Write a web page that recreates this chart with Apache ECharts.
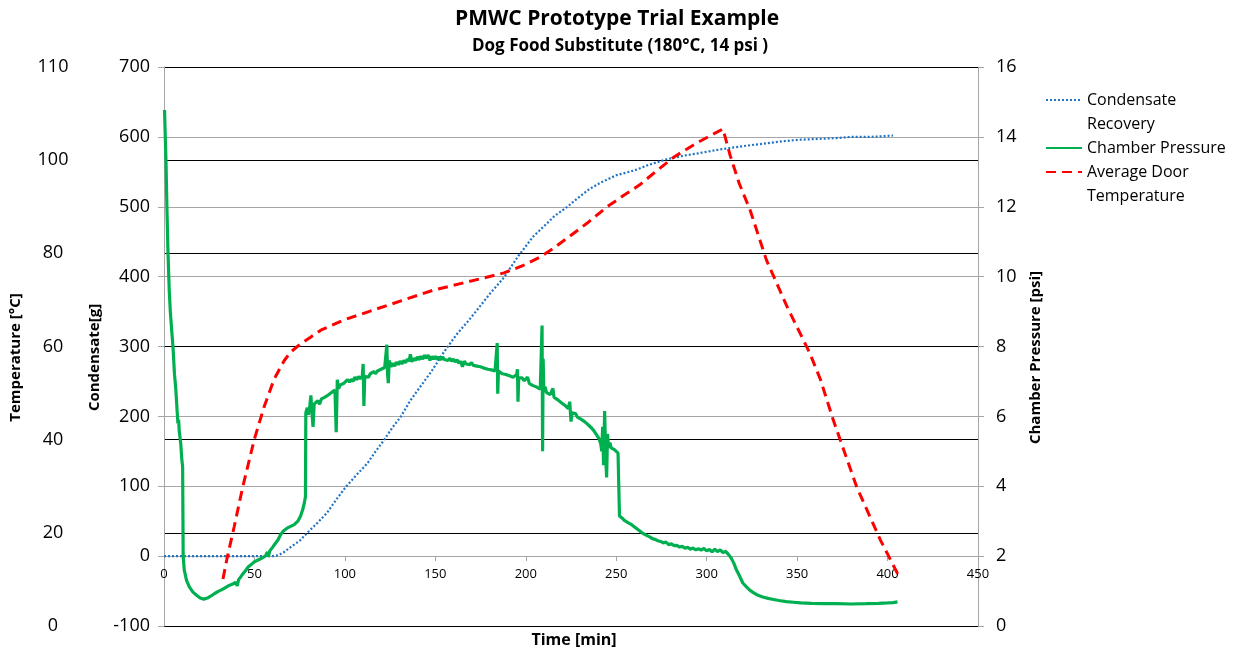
<!DOCTYPE html>
<html>
<head>
<meta charset="utf-8">
<script src="https://cdn.jsdelivr.net/npm/echarts@6/dist/echarts.min.js"></script>
<style>
html,body{margin:0;padding:0;background:#fff;}
#chart{width:1239px;height:653px;}
</style>
</head>
<body>
<div id="chart"></div>
<script>
// ---- Data ----
const timeTicks = [0, 50, 100, 150, 200, 250, 300, 350, 400, 450];

const condTime = [0, 10, 20, 30, 40, 50, 60, 63, 66, 70, 75, 79.5, 85, 90.4, 95, 100.5, 106, 112.5, 117, 121.6, 126, 131, 136, 141, 148, 155, 162, 168, 173, 180, 188, 196, 204, 210, 216, 223, 230, 235, 241, 250, 260, 268, 278, 287, 296.5, 305, 315, 324, 333.5, 343, 352, 361, 370, 380, 390, 398, 403];
const condensate = [0, 0, 0, 0, 0, 0, 0, 1, 5, 13, 22, 34, 48, 63, 80, 99, 115, 133, 150, 166, 183, 200, 222, 240, 265, 293, 318, 336, 352, 375, 399, 430, 457, 472, 487, 500, 515, 525, 534, 545, 552, 560, 568, 573, 577, 581, 585, 588, 591, 594, 596, 597, 598, 600, 600, 601, 602];

const pressTime = [0.3, 0.6, 1.1, 1.6, 2.2, 2.9, 3.5, 4.2, 5.0, 5.8, 6.5, 7.2, 7.7, 8.1, 8.4, 8.8, 9.3, 9.8, 10.3, 10.6, 11.2, 12.5, 14, 16, 18, 20, 22, 24, 26, 28, 30, 32, 34, 36, 38, 39.5, 40.5, 41.2, 43, 45, 46.5, 48, 50, 52, 54, 56, 57.2, 57.7, 58.5, 60, 61.5, 63, 64.5, 66, 68, 70, 72, 74, 75.5, 76.6, 77.5, 78.2,
  78.4, 79.2, 79.8, 80.6, 81.2, 81.8, 82.4, 83, 84, 85, 86, 87, 88, 89, 90, 91, 92, 93, 94.5, 95.2, 95.8, 96.5, 97.5, 98.5, 99.5, 100.5, 101.5, 102.5, 103.5, 104.5, 105.5, 106.5, 107.5, 108.5, 109.6, 110.1, 110.5, 111, 112, 113, 114, 115, 116, 117, 118, 119, 120, 121, 122, 123.2, 123.6, 124, 124.5, 125.5, 126.5, 127.5, 128.5, 129.5, 130.5, 131.5, 132.5, 133.5, 134.5, 135.5, 136.2, 137, 138, 139, 140, 141, 142, 143, 144, 145, 146, 147, 148, 149, 150, 151, 152, 153, 154, 155, 156, 157, 158, 159, 160, 161, 162, 163, 164, 165, 166, 167, 168, 169, 170, 171, 172, 173, 174, 175, 176, 177, 178, 179, 180, 181, 182, 183, 183.8, 184.2, 184.5, 184.9, 186, 187, 188, 189, 190, 191, 192, 193, 194, 195, 195.4, 195.7, 196.1, 197, 198, 199, 200, 201, 202, 203, 204, 205, 206, 207, 208, 208.7, 209, 209.3, 209.6, 210, 210.6, 211.5, 212.5, 213.5, 214.5, 215, 215.6, 216.5, 217.5, 218.5, 219.5, 220.5, 221.5, 222.5, 223.5, 224.3, 225, 225.6, 226.5, 227.5, 228.5, 229.5, 230.5, 231.5, 232.5, 233.5, 234.5, 235.5, 236.5, 237.5, 238.5, 239.5, 240.5, 241.5, 242, 242.5, 243, 243.6, 244.2, 244.7, 245.2, 245.8, 246.5, 247.2, 248, 249, 250, 251, 251.5,
  251.8, 252.5, 253.5, 254.5, 255.5, 256.5, 257.5, 258.5, 259.5, 260.5, 261.5, 262.5, 263.5, 264.5, 265.5, 266.5, 267.5, 268.5, 270, 271.5, 273, 274.5, 276, 277.5, 279, 280.5, 282, 283.5, 285, 286.5, 288, 289.5, 291, 292.5, 294, 295.5, 297, 298.5, 300, 301.5, 303, 304.5, 306, 307.5, 309, 310.5, 312, 313.5, 315, 316.5, 318, 320, 322, 324, 326, 328, 331, 334, 337, 340, 344, 348, 352, 358, 365, 372, 380, 388, 395, 400, 403, 405.5];
const pressure = [14.77, 14.2, 13.3, 12.0, 10.7, 9.6, 9.0, 8.5, 7.97, 7.2, 6.8, 6.2, 5.8, 5.9, 5.6, 5.65, 5.2, 4.8, 4.55, 2.0, 1.6, 1.3, 1.12, 0.97, 0.88, 0.8, 0.77, 0.8, 0.86, 0.93, 0.99, 1.04, 1.1, 1.16, 1.2, 1.25, 1.15, 1.32, 1.45, 1.58, 1.69, 1.75, 1.84, 1.89, 1.94, 2.0, 2.12, 1.98, 2.15, 2.25, 2.36, 2.46, 2.62, 2.72, 2.8, 2.85, 2.9, 3.0, 3.15, 3.32, 3.5, 3.7,
  6.1, 6.25, 6.05, 6.3, 6.6, 6.1, 5.7, 6.35, 6.3, 6.45, 6.35, 6.5, 6.45, 6.55, 6.5, 6.62, 6.58, 6.7, 6.75, 5.55, 7.05, 6.8, 6.9, 6.85, 6.95, 6.9, 7.05, 6.98, 7.06, 7.0, 7.12, 7.05, 7.14, 7.08, 7.15, 7.5, 6.3, 7.15, 7.18, 7.12, 7.22, 7.2, 7.28, 7.22, 7.3, 7.27, 7.35, 7.3, 7.4, 8.05, 7.2, 6.95, 7.6, 7.42, 7.52, 7.44, 7.55, 7.48, 7.58, 7.5, 7.6, 7.53, 7.64, 7.58, 7.78, 7.56, 7.66, 7.6, 7.7, 7.62, 7.72, 7.64, 7.75, 7.66, 7.76, 7.6, 7.72, 7.64, 7.72, 7.63, 7.7, 7.62, 7.7, 7.63, 7.68, 7.6, 7.66, 7.58, 7.64, 7.56, 7.62, 7.52, 7.58, 7.42, 7.58, 7.5, 7.55, 7.48, 7.54, 7.46, 7.5, 7.44, 7.48, 7.42, 7.46, 7.38, 7.42, 7.35, 7.4, 7.33, 7.37, 7.3, 7.35, 8.1, 6.65, 7.3, 7.28, 7.22, 7.27, 7.2, 7.24, 7.16, 7.2, 7.12, 7.16, 7.2, 7.35, 6.42, 7.1, 7.06, 7.1, 7.02, 7.06, 7.12, 6.94, 6.98, 6.88, 6.92, 6.84, 6.88, 6.78, 6.8, 8.6, 5.0, 7.65, 6.7, 6.85, 6.68, 6.72, 6.62, 6.66, 6.8, 6.55, 6.58, 6.48, 6.5, 6.4, 6.42, 6.32, 6.35, 6.22, 6.42, 5.85, 6.1, 6.05, 6.08, 5.98, 6.0, 5.92, 5.95, 5.85, 5.86, 5.76, 5.74, 5.66, 5.6, 5.52, 5.5, 5.36, 5.2, 5.0, 5.7, 4.6, 6.15, 4.8, 4.25, 5.5, 5.1, 5.25, 5.1, 5.15, 5.05, 5.0, 4.95, 4.9,
  3.15, 3.1, 3.08, 3.02, 3.04, 2.96, 2.98, 2.9, 2.88, 2.82, 2.8, 2.74, 2.72, 2.66, 2.68, 2.6, 2.58, 2.55, 2.5, 2.48, 2.44, 2.42, 2.38, 2.4, 2.33, 2.35, 2.3, 2.31, 2.26, 2.28, 2.23, 2.25, 2.2, 2.23, 2.18, 2.21, 2.17, 2.22, 2.15, 2.19, 2.12, 2.2, 2.13, 2.18, 2.1, 2.14, 2.05, 1.95, 1.8, 1.6, 1.45, 1.23, 1.12, 1.02, 0.95, 0.89, 0.83, 0.79, 0.76, 0.73, 0.7, 0.68, 0.66, 0.65, 0.64, 0.64, 0.63, 0.64, 0.65, 0.66, 0.67, 0.69];

const tempTime = [32.6, 35, 38.8, 43.5, 49.8, 55.3, 60.9, 66.5, 70, 75.6, 81, 86.7, 99.4, 114, 131, 149, 165, 176.7, 188, 198, 208, 215, 223, 234, 245, 254, 263, 272, 282, 295, 309, 313, 318, 324, 333, 344.5, 357, 363, 370, 383, 396, 406.5];
const temperature = [10.1, 14.8, 21.3, 29.8, 39.9, 47, 53, 57, 58.8, 60.6, 62, 63.5, 65.7, 67.6, 69.8, 72.1, 73.6, 74.7, 75.8, 77.3, 79.2, 81, 83.3, 86.5, 90, 92.4, 94.7, 97.6, 100.7, 103.8, 106.7, 101, 95, 89.3, 78.6, 68.5, 58.6, 52.8, 44.2, 29.8, 18.5, 10.5];

const tempTickLabels = {0: '0', 20: '20', 40: '40', 60: '60', 80: '80', 100: '100', 120: '110'};

const seriesNames = ['Condensate Recovery', 'Chamber Pressure', 'Average Door Temperature'];

// ---- Build ----
function zip(a, b) { return a.map((v, i) => [v, b[i]]); }
const FONT = 'Open Sans';
const GREY = '#a6a6a6';

const chart = echarts.init(document.getElementById('chart'), null, {renderer: 'canvas'});
// a leading blank line keeps the legend line beside the first line of a two-line name
const legendFormatter = n => n === 'Condensate Recovery' ? '\nCondensate\nRecovery'
  : n === 'Average Door Temperature' ? '\nAverage Door\nTemperature' : n;
const legendBase = {
  orient: 'vertical', left: 1045, padding: 0, itemWidth: 36, itemHeight: 12,
  formatter: legendFormatter,
  itemStyle: {opacity: 0},
  textStyle: {fontSize: 16, lineHeight: 24, color: '#000', fontFamily: FONT}
};
const axisNameStyle = {fontSize: 15, fontWeight: 'bold', color: '#000', padding: [0, 22, 0, 0]};

chart.setOption({
  animation: false,
  textStyle: {fontFamily: FONT},
  title: [
    {text: 'PMWC Prototype Trial Example', left: 450, top: 4,
      textStyle: {fontSize: 21, fontWeight: 'bold', color: '#000', fontFamily: FONT}},
    {text: 'Dog Food Substitute (180°C, 14 psi )', left: 467, top: 33,
      textStyle: {fontSize: 17, fontWeight: 'bold', color: '#000', fontFamily: FONT}},
    {text: 'Time [min]', left: 569, textAlign: 'center', top: 627,
      textStyle: {fontSize: 16, fontWeight: 'bold', color: '#000', fontFamily: FONT}}
  ],
  legend: [
    Object.assign({}, legendBase, {top: 64, data: [seriesNames[0]]}),
    Object.assign({}, legendBase, {top: 136, data: [seriesNames[1]]}),
    Object.assign({}, legendBase, {top: 136, data: [seriesNames[2]]})
  ],
  grid: {left: 163, right: 261, top: 67, bottom: 27},
  xAxis: {
    type: 'value', min: timeTicks[0], max: timeTicks[timeTicks.length - 1],
    interval: timeTicks[1] - timeTicks[0],
    position: 'bottom', offset: -70,
    axisLine: {show: true, onZero: false, lineStyle: {color: GREY}},
    axisTick: {show: true, length: 5, lineStyle: {color: GREY}},
    axisLabel: {fontSize: 13, color: '#000', margin: 12},
    splitLine: {show: false}
  },
  yAxis: [
    {
      type: 'value', position: 'left', min: -100, max: 700, interval: 100,
      axisLine: {show: true, lineStyle: {color: GREY}},
      axisTick: {show: true, length: 6, lineStyle: {color: GREY}},
      axisLabel: {fontSize: 18, color: '#000', margin: 14},
      splitLine: {show: true, lineStyle: {color: GREY}},
      name: 'Condensate[g]', nameLocation: 'middle', nameGap: 60, nameRotate: 90,
      nameTextStyle: axisNameStyle
    },
    {
      type: 'value', position: 'right', min: 0, max: 16, interval: 2,
      axisLine: {show: true, lineStyle: {color: GREY}},
      axisTick: {show: true, length: 6, lineStyle: {color: GREY}},
      axisLabel: {fontSize: 18, color: '#000', margin: 18},
      splitLine: {show: false},
      name: 'Chamber Pressure [psi]', nameLocation: 'middle', nameGap: 50, nameRotate: 90,
      nameTextStyle: axisNameStyle
    },
    {
      type: 'value', position: 'left', offset: 103, min: 0, max: 120, interval: 20,
      axisLine: {show: false}, axisTick: {show: false},
      axisLabel: {fontSize: 18, color: '#000', margin: 8, align: 'center',
        padding: [0, 0, 6, 0], formatter: v => tempTickLabels[v]},
      splitLine: {show: true, lineStyle: {color: '#000', width: 1}},
      name: 'Temperature [°C]', nameLocation: 'middle', nameGap: 38, nameRotate: 90,
      nameTextStyle: axisNameStyle
    }
  ],
  series: [
    {
      name: seriesNames[0], type: 'line', yAxisIndex: 0, symbol: 'none',
      data: zip(condTime, condensate),
      itemStyle: {color: '#1f74c6'},
      lineStyle: {color: '#1f74c6', width: 2.2, type: [2, 2]}
    },
    {
      name: seriesNames[1], type: 'line', yAxisIndex: 1, symbol: 'none',
      data: zip(pressTime, pressure),
      itemStyle: {color: '#00b050'},
      lineStyle: {color: '#00b050', width: 3.2}
    },
    {
      name: seriesNames[2], type: 'line', yAxisIndex: 2, symbol: 'none',
      data: zip(tempTime, temperature),
      itemStyle: {color: '#ff0000'},
      lineStyle: {color: '#ff0000', width: 3, type: [10, 6]}
    }
  ]
});
</script>
</body>
</html>
